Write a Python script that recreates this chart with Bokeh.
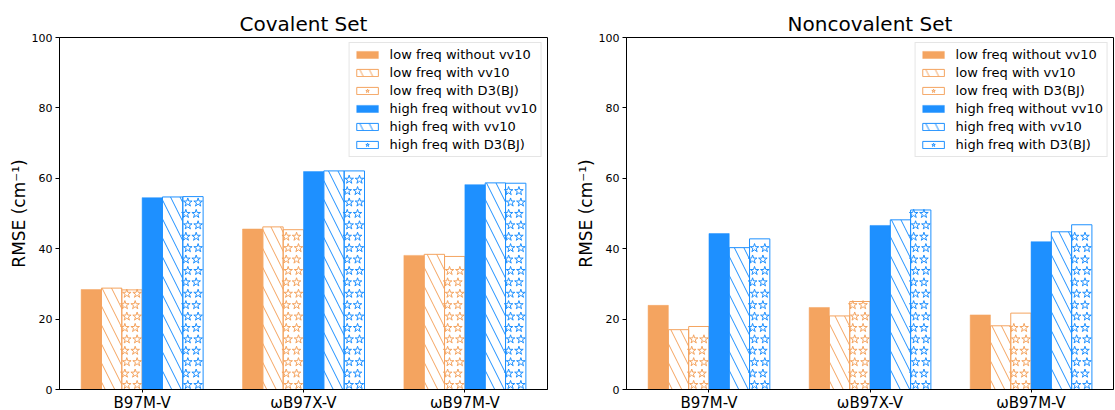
from bokeh.plotting import figure
from bokeh.models import Range1d, FixedTicker, Legend, LegendItem, ColumnDataSource
from bokeh.layouts import row
from bokeh.embed import file_html
from bokeh.resources import INLINE

# ---------------- data ----------------
methods = ["B97M-V", "ωB97X-V", "ωB97M-V"]
series_labels = ["low freq without vv10", "low freq with vv10", "low freq with D3(BJ)",
                 "high freq without vv10", "high freq with vv10", "high freq with D3(BJ)"]
y_ticks = [0, 20, 40, 60, 80, 100]

cov_low_plain = [28.4, 45.6, 38.1]
cov_low_vv10 = [28.8, 46.2, 38.4]
cov_low_d3 = [28.3, 45.4, 37.8]
cov_high_plain = [54.5, 61.9, 58.2]
cov_high_vv10 = [54.7, 62.1, 58.7]
cov_high_d3 = [54.8, 62.1, 58.6]

non_low_plain = [23.9, 23.3, 21.2]
non_low_vv10 = [17.0, 20.9, 18.1]
non_low_d3 = [17.9, 25.0, 21.7]
non_high_plain = [44.3, 46.6, 42.0]
non_high_vv10 = [40.3, 48.2, 44.8]
non_high_d3 = [42.8, 51.0, 46.8]

# ---------------- style ----------------
ORANGE = "#F4A460"
BLUE = "#1E90FF"
colors = [ORANGE, ORANGE, ORANGE, BLUE, BLUE, BLUE]
kinds = ["solid", "hatch", "star", "solid", "hatch", "star"]
BW = 0.126
FONT = "DejaVu Sans"


def panel(title, series, frame_w, border_left, border_right):
    p = figure(frame_width=frame_w, frame_height=352, output_backend="svg", toolbar_location=None,
               x_range=Range1d(-0.512, 2.512), y_range=Range1d(0, 100),
               min_border_left=border_left, min_border_right=border_right,
               min_border_top=37, min_border_bottom=21)
    p.title.text = title
    p.title.text_font = FONT
    p.title.text_font_size = "20px"
    p.title.text_font_style = "normal"
    p.title.align = "center"
    p.title.text_color = "black"
    p.title.standoff = 4
    p.xgrid.visible = False
    p.ygrid.visible = False
    p.outline_line_color = "black"
    p.outline_line_alpha = 1
    p.outline_line_width = 1
    p.background_fill_color = "white"
    p.border_fill_color = "white"

    xs = list(range(len(methods)))
    items = []
    for i, vals in enumerate(series):
        color = colors[i]
        kind = kinds[i]
        off = (i - 2.5) * BW
        src = ColumnDataSource(dict(x=[x + off for x in xs], top=vals))
        if kind == "solid":
            r = p.vbar(x="x", top="top", width=BW, source=src,
                       fill_color=color, line_color=color, line_width=0.5)
            rs = [r]
        elif kind == "hatch":
            r = p.vbar(x="x", top="top", width=BW, source=src,
                       fill_alpha=0, line_color=color, line_width=1,
                       hatch_pattern="\\", hatch_color=color, hatch_scale=19,
                       hatch_weight=1)
            rs = [r]
        else:
            r = p.vbar(x="x", top="top", width=BW, source=src,
                       fill_alpha=0, line_color=color, line_width=1)
            sx, sy = [], []
            for xc, h in zip(src.data["x"], vals):
                k = 0
                while 1.3 + k * 3.24 + 1.0 < h:
                    shift = 0.0 if k % 2 == 0 else -0.012
                    for dx in (-0.032, 0.032):
                        sx.append(xc + dx + shift)
                        sy.append(1.3 + k * 3.24)
                    k += 1
            s = p.scatter(x=sx, y=sy, marker="star", size=9, fill_alpha=0,
                          line_color=color, line_width=1)
            rs = [r, s]
        items.append(LegendItem(label=series_labels[i], renderers=rs))

    legend = Legend(items=items, location="top_right")
    legend.margin = 5
    legend.padding = 4
    legend.spacing = 3
    legend.glyph_width = 27
    legend.glyph_height = 9
    legend.label_standoff = 9
    legend.label_text_font = FONT
    legend.label_text_font_size = "13px"
    legend.label_text_color = "black"
    legend.border_line_color = "#cccccc"
    legend.border_line_width = 1
    legend.background_fill_alpha = 0.8
    p.add_layout(legend)

    xa = p.xaxis[0]
    xa.ticker = FixedTicker(ticks=xs)
    xa.major_label_overrides = {x: m for x, m in zip(xs, methods)}
    xa.major_label_text_font = FONT
    xa.major_label_text_font_size = "15px"
    xa.major_label_text_color = "black"
    xa.major_tick_out = 3
    xa.major_tick_in = 0
    xa.minor_tick_line_color = None
    xa.major_label_standoff = 1
    xa.axis_line_color = "black"

    ya = p.yaxis[0]
    ya.ticker = FixedTicker(ticks=y_ticks)
    ya.major_label_text_font = FONT
    ya.major_label_text_font_size = "11px"
    ya.major_label_text_color = "black"
    ya.major_tick_out = 4
    ya.major_tick_in = 0
    ya.minor_tick_line_color = None
    ya.major_label_standoff = 3
    ya.axis_line_color = "black"
    ya.axis_label = "RMSE (cm⁻¹)"
    ya.axis_label_text_font = FONT
    ya.axis_label_text_font_size = "17px"
    ya.axis_label_text_font_style = "normal"
    ya.axis_label_text_color = "black"
    ya.axis_label_standoff = 0
    return p


cov_series = [cov_low_plain, cov_low_vv10, cov_low_d3, cov_high_plain, cov_high_vv10, cov_high_d3]
non_series = [non_low_plain, non_low_vv10, non_low_d3, non_high_plain, non_high_vv10, non_high_d3]

p1 = panel("Covalent Set", cov_series, 488, 59, 20)
p2 = panel("Noncovalent Set", non_series, 487, 59, 1)

layout = row(p1, p2)
open("out.html", "w").write(file_html(layout, INLINE))
